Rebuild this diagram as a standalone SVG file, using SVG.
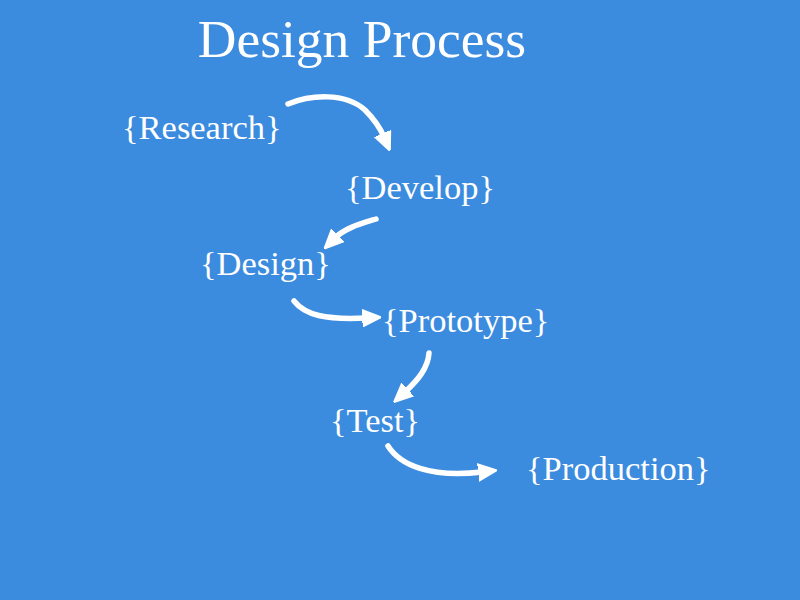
<svg xmlns="http://www.w3.org/2000/svg" width="800" height="600" viewBox="0 0 800 600">
<defs>
<style>
.t{font-family:"Liberation Serif","Times New Roman",serif;fill:#fff}
.lbl{font-size:34.5px}
.c{fill:none;stroke:#fff;stroke-width:5.5;stroke-linecap:round;stroke-linejoin:round}
</style>
<marker id="ah" viewBox="0 0 10 10" markerWidth="3.4" markerHeight="3.4" refX="2" refY="5" orient="auto" markerUnits="strokeWidth">
<path d="M0,0.5 L10,5 L0,9.5 z" fill="#fff" stroke="#fff" stroke-width="1" stroke-linejoin="round"/>
</marker>
</defs>
<rect width="800" height="600" fill="#3b8bde"/>
<text class="t" x="362" y="57" font-size="53.5" text-anchor="middle">Design Process</text>
<g id="research"><text class="t lbl" x="122" y="139">{Research}</text></g>
<g id="develop"><text class="t lbl" x="345" y="199">{Develop}</text></g>
<g id="design"><text class="t lbl" x="200" y="275">{Design}</text></g>
<g id="prototype"><text class="t lbl" x="382" y="332">{Prototype}</text></g>
<g id="test"><text class="t lbl" x="330" y="432">{Test}</text></g>
<g id="production"><text class="t lbl" x="526" y="480">{Production}</text></g>
<g id="connectors">
<path class="c" marker-end="url(#ah)" d="M288,104 C310,95 345,92 365,110 C375,120 381,130 384,137"/>
<path class="c" marker-end="url(#ah)" d="M376,219 C360,224 345,228 335,238"/>
<path class="c" marker-end="url(#ah)" d="M294,301 C305,315 325,320 366,318"/>
<path class="c" marker-end="url(#ah)" d="M429,353 C428,368 418,380 405,392"/>
<path class="c" marker-end="url(#ah)" d="M388,446 C400,465 430,478 482,472"/>
</g>
</svg>
